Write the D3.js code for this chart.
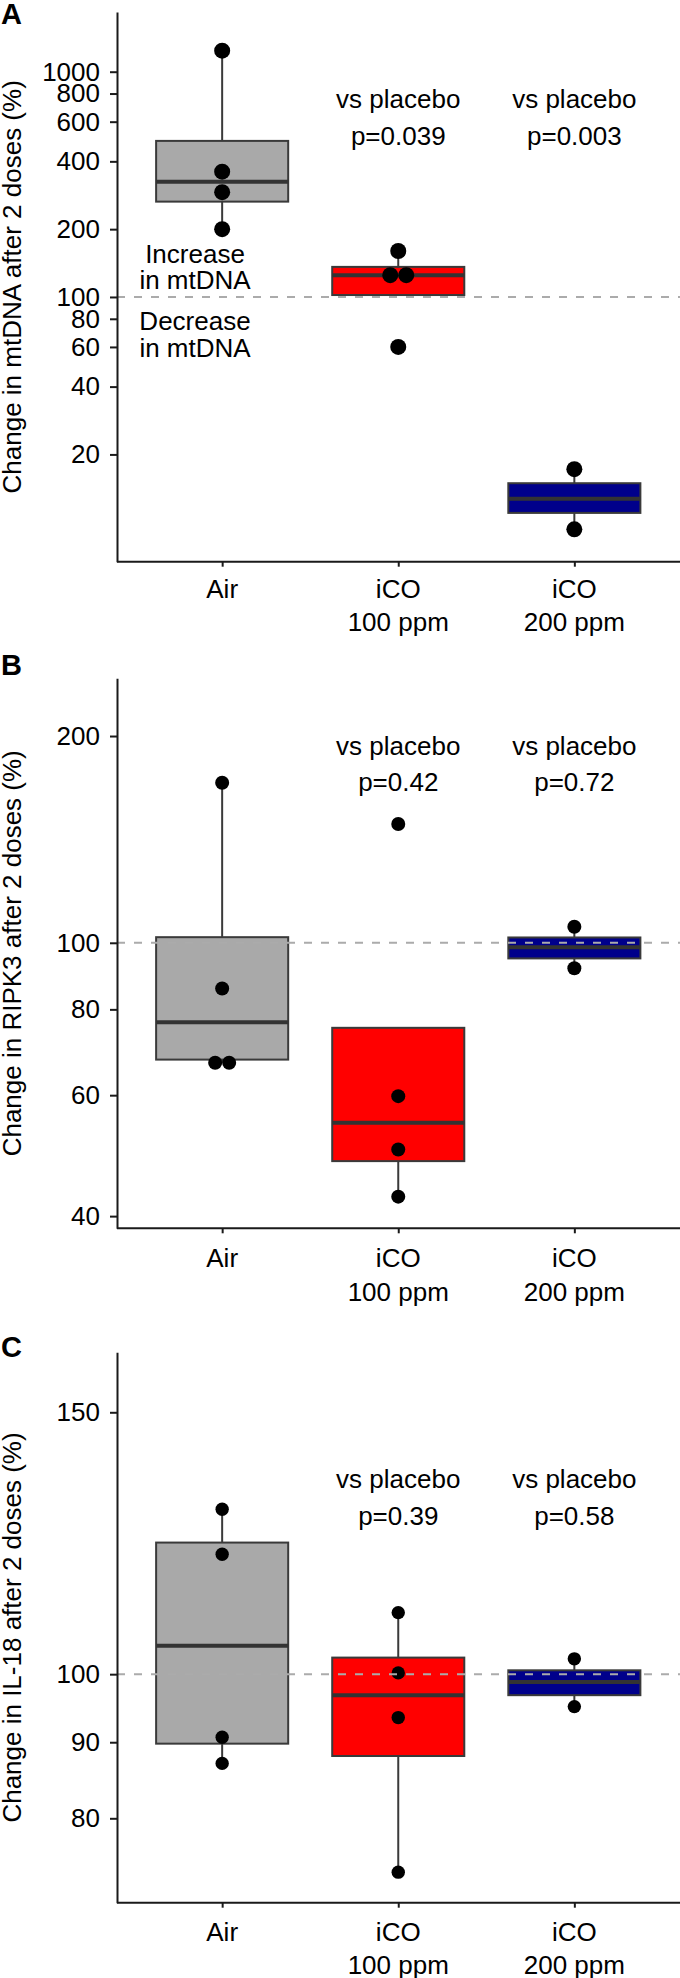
<!DOCTYPE html>
<html><head><meta charset="utf-8">
<script src="https://cdn.jsdelivr.net/npm/d3@7"></script>
<style>
body{margin:0;background:#fff}
svg text{font-family:"Liberation Sans",Arial,Helvetica,sans-serif;fill:#000}
</style>
</head><body>
<svg id="chart" width="680" height="1978"></svg>
<script>
// ---------- data ----------
const categories = ["Air", "iCO 100 ppm", "iCO 200 ppm"];
const categoryLines = [["Air"], ["iCO", "100 ppm"], ["iCO", "200 ppm"]];
const boxColors = ["#A9A9A9", "#FF0000", "#00008B"];
const compareText = "vs placebo";

// Panel A: mtDNA
const mtdnaTicks = [20, 40, 60, 80, 100, 200, 400, 600, 800, 1000];
const mtdnaPoints = [[1240, 360, 292, 200], [160, 125, 125, 60], [17.2, 9.3]];
const mtdnaQ1 = [265, 102, 11.0];
const mtdnaMedian = [325, 125, 12.7];
const mtdnaQ3 = [493, 136, 14.9];
const mtdnaWhiskerLow = [200, 102, 9.3];
const mtdnaWhiskerHigh = [1240, 160, 17.2];
const mtdnaP = ["p=0.039", "p=0.003"];

// Panel B: RIPK3
const ripk3Ticks = [40, 60, 80, 100, 200];
const ripk3Points = [[171, 85.8, 66.9, 66.9], [148.9, 59.8, 50, 42.7], [105.5, 91.8]];
const ripk3Q1 = [67.6, 48.1, 94.9];
const ripk3Median = [76.6, 54.7, 98.5];
const ripk3Q3 = [101.9, 75.2, 101.8];
const ripk3WhiskerLow = [66.9, 42.7, 91.8];
const ripk3WhiskerHigh = [171, 75.2, 105.5];
const ripk3P = ["p=0.42", "p=0.72"];

// Panel C: IL-18
const il18Ticks = [80, 90, 100, 150];
const il18Points = [[129.1, 120.4, 90.7, 87.1], [110, 100.2, 93.5, 73.6], [102.4, 95.1]];
const il18Q1 = [89.8, 88.1, 96.8];
const il18Median = [104.5, 96.8, 98.8];
const il18Q3 = [122.6, 102.6, 100.6];
const il18WhiskerLow = [87.1, 73.6, 95.1];
const il18WhiskerHigh = [129.1, 110, 102.4];
const il18P = ["p=0.39", "p=0.58"];

// ---------- layout ----------
const panels = [
  {label: "A", labelY: 24, top: 12, bottom: 561.7, domain: [6.68, 1841],
   title: "Change in mtDNA after 2 doses (%)", ticks: mtdnaTicks,
   points: mtdnaPoints, q1: mtdnaQ1, med: mtdnaMedian, q3: mtdnaQ3,
   lo: mtdnaWhiskerLow, hi: mtdnaWhiskerHigh, p: mtdnaP,
   r: 8, vsY: 108, pY: 145, xlab: 36, extra: true},
  {label: "B", labelY: 675, top: 678.3, bottom: 1228.3, domain: [38.4, 242.7],
   title: "Change in RIPK3 after 2 doses (%)", ticks: ripk3Ticks,
   points: ripk3Points, q1: ripk3Q1, med: ripk3Median, q3: ripk3Q3,
   lo: ripk3WhiskerLow, hi: ripk3WhiskerHigh, p: ripk3P,
   r: 7, vsY: 755, pY: 790.7, xlab: 39},
  {label: "C", labelY: 1357, top: 1352.3, bottom: 1902.7, domain: [70.2, 164.6],
   title: "Change in IL-18 after 2 doses (%)", ticks: il18Ticks,
   points: il18Points, q1: il18Q1, med: il18Median, q3: il18Q3,
   lo: il18WhiskerLow, hi: il18WhiskerHigh, p: il18P,
   r: 6.7, vsY: 1488.3, pY: 1525, xlab: 38}
];

const svg = d3.select("#chart");
const axisX = 117, rightX = 680;
const FS = 26;
const x = d3.scalePoint().domain(categories).range([116.5, 680]).padding(0.6);
const boxW = x.step() * 0.75;
const axisColor = "#1a1a1a", lineColor = "#3a3a3a";

panels.forEach(P => {
  const g = svg.append("g");
  const y = d3.scaleLog().domain(P.domain).range([P.bottom, P.top]);

  // panel letter
  g.append("text").attr("x", 1).attr("y", P.labelY)
    .attr("font-weight", "bold").attr("font-size", 29).text(P.label);

  // y title
  g.append("text")
    .attr("transform", `translate(21,${(P.top + P.bottom) / 2}) rotate(-90)`)
    .attr("text-anchor", "middle").attr("font-size", FS).text(P.title);

  // boxes
  categories.forEach((c, i) => {
    const cx = x(c);
    const bg = g.append("g");
    bg.append("line").attr("x1", cx).attr("x2", cx)
      .attr("y1", y(P.q3[i])).attr("y2", y(P.hi[i]))
      .attr("stroke", lineColor).attr("stroke-width", 2);
    bg.append("line").attr("x1", cx).attr("x2", cx)
      .attr("y1", y(P.q1[i])).attr("y2", y(P.lo[i]))
      .attr("stroke", lineColor).attr("stroke-width", 2);
    bg.append("rect").attr("x", cx - boxW / 2).attr("width", boxW)
      .attr("y", y(P.q3[i])).attr("height", y(P.q1[i]) - y(P.q3[i]))
      .attr("fill", boxColors[i]).attr("stroke", lineColor).attr("stroke-width", 2);
    bg.append("line").attr("x1", cx - boxW / 2).attr("x2", cx + boxW / 2)
      .attr("y1", y(P.med[i])).attr("y2", y(P.med[i]))
      .attr("stroke", "#333").attr("stroke-width", 4);
  });

  // points (equal values dodged side by side)
  categories.forEach((c, i) => {
    const vals = P.points[i];
    vals.forEach((v, j) => {
      const same = vals.map((w, k) => [w, k]).filter(d => Math.abs(y(d[0]) - y(v)) < 1);
      const idx = same.findIndex(d => d[1] === j);
      const off = (idx - (same.length - 1) / 2) * 2 * P.r;
      g.append("circle").attr("cx", x(c) + off).attr("cy", y(v))
        .attr("r", P.r).attr("fill", "#000");
    });
  });

  // reference line at 100
  g.append("line").attr("x1", axisX).attr("x2", rightX)
    .attr("y1", y(100)).attr("y2", y(100))
    .attr("stroke", "#ABABAB").attr("stroke-width", 2)
    .attr("stroke-dasharray", "8,9");

  // y axis
  const ya = g.append("g").attr("transform", `translate(${axisX},0)`)
    .call(d3.axisLeft(y).tickValues(P.ticks).tickFormat(d => String(d))
      .tickSize(7).tickSizeOuter(0).tickPadding(10));
  ya.selectAll("text").attr("font-size", FS).attr("font-family", null);
  ya.selectAll("path,line").attr("stroke", axisColor).attr("stroke-width", 2);

  // x axis
  const xa = g.append("g").attr("transform", `translate(0,${P.bottom})`)
    .call(d3.axisBottom(x).tickSize(5).tickSizeOuter(0).tickFormat(""));
  xa.select(".domain").attr("d", `M${axisX},0H${rightX}`);
  xa.selectAll("path,line").attr("stroke", axisColor).attr("stroke-width", 2);
  categories.forEach((c, i) => {
    const t = g.append("text").attr("text-anchor", "middle").attr("font-size", FS);
    categoryLines[i].forEach((ln, k) => {
      t.append("tspan").attr("x", x(c)).attr("y", P.bottom + P.xlab + k * 33.5).text(ln);
    });
  });

  // comparison annotations
  [1, 2].forEach((ci, k) => {
    g.append("text").attr("x", x(categories[ci])).attr("y", P.vsY)
      .attr("text-anchor", "middle").attr("font-size", FS).text(compareText);
    g.append("text").attr("x", x(categories[ci])).attr("y", P.pY)
      .attr("text-anchor", "middle").attr("font-size", FS).text(P.p[k]);
  });

  if (P.extra) {
    const tx = 195;
    [["Increase", 263.3], ["in mtDNA", 289.3], ["Decrease", 330], ["in mtDNA", 356.7]]
      .forEach(d => g.append("text").attr("x", tx).attr("y", d[1])
        .attr("text-anchor", "middle").attr("font-size", FS).text(d[0]));
  }
});
</script>
</body></html>
